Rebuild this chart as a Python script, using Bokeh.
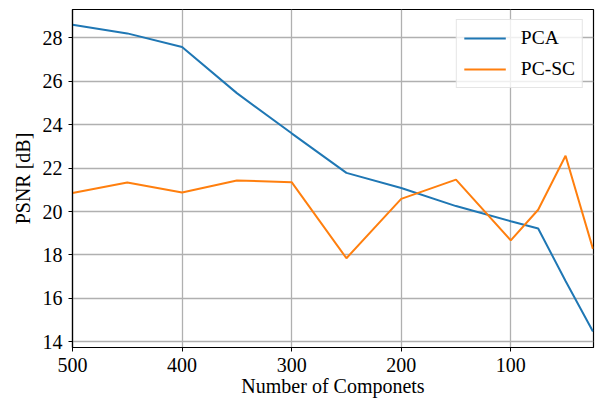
from bokeh.plotting import figure
from bokeh.models import Range1d, FixedTicker, Legend, LegendItem
from bokeh.embed import file_html
from bokeh.resources import INLINE

components = [500, 450, 400, 350, 300, 250, 200, 150, 100, 75, 50, 25]
pca_psnr = [28.6, 28.2, 27.57, 25.45, 23.6, 21.78, 21.08, 20.25, 19.55, 19.22, 16.8, 14.48]
pcsc_psnr = [20.85, 21.34, 20.88, 21.43, 21.35, 17.85, 20.58, 21.47, 18.67, 20.08, 22.57, 18.28]
x_ticks = [100, 200, 300, 400, 500]
y_ticks = [14, 16, 18, 20, 22, 24, 26, 28]

FONT = "Liberation Serif"

p = figure(width=595, height=403, output_backend="svg", toolbar_location=None,
           x_range=Range1d(500, 24.5), y_range=Range1d(13.74, 29.3),
           min_border_left=72, min_border_right=2, min_border_top=9, min_border_bottom=56)

p.outline_line_color = "black"
p.outline_line_width = 1.2
p.outline_line_alpha = 1.0

for ax in (p.xaxis[0], p.yaxis[0]):
    ax.axis_line_color = "black"
    ax.axis_line_width = 1.2
    ax.major_tick_out = 4
    ax.major_tick_in = 0
    ax.major_tick_line_color = "black"
    ax.minor_tick_out = 0
    ax.minor_tick_in = 0
    ax.major_label_text_font = FONT
    ax.major_label_text_font_size = "20px"
    ax.major_label_text_color = "black"
    ax.axis_label_text_font = FONT
    ax.axis_label_text_font_size = "20px"
    ax.axis_label_text_font_style = "normal"
    ax.axis_label_text_color = "black"

p.xaxis.ticker = FixedTicker(ticks=x_ticks)
p.yaxis.ticker = FixedTicker(ticks=y_ticks)
p.xaxis.axis_label = "Number of Componets"
p.yaxis.axis_label = "PSNR [dB]"
p.xaxis.major_label_standoff = 6
p.yaxis.major_label_standoff = 6
p.xaxis.axis_label_standoff = 0
p.yaxis.axis_label_standoff = 6

p.xgrid.ticker = FixedTicker(ticks=x_ticks)
p.ygrid.ticker = FixedTicker(ticks=y_ticks)
for g in (p.xgrid[0], p.ygrid[0]):
    g.grid_line_color = "#b0b0b0"
    g.grid_line_width = 1.3

r1 = p.line(components, pca_psnr, line_color="#1f77b4", line_width=2)
r2 = p.line(components, pcsc_psnr, line_color="#ff7f0e", line_width=2)

legend = Legend(items=[LegendItem(label="PCA", renderers=[r1]),
                       LegendItem(label="PC-SC", renderers=[r2])],
                location="top_right")
legend.margin = 10
legend.padding = 7
legend.spacing = 9
legend.glyph_width = 42
legend.glyph_height = 20
legend.label_height = 20
legend.label_standoff = 15
legend.label_text_font = FONT
legend.label_text_font_size = "19.5px"
legend.label_text_color = "black"
legend.border_line_color = "#cccccc"
legend.border_line_width = 1
legend.background_fill_alpha = 0.8
p.add_layout(legend)

open("out.html", "w").write(file_html(p, INLINE))
